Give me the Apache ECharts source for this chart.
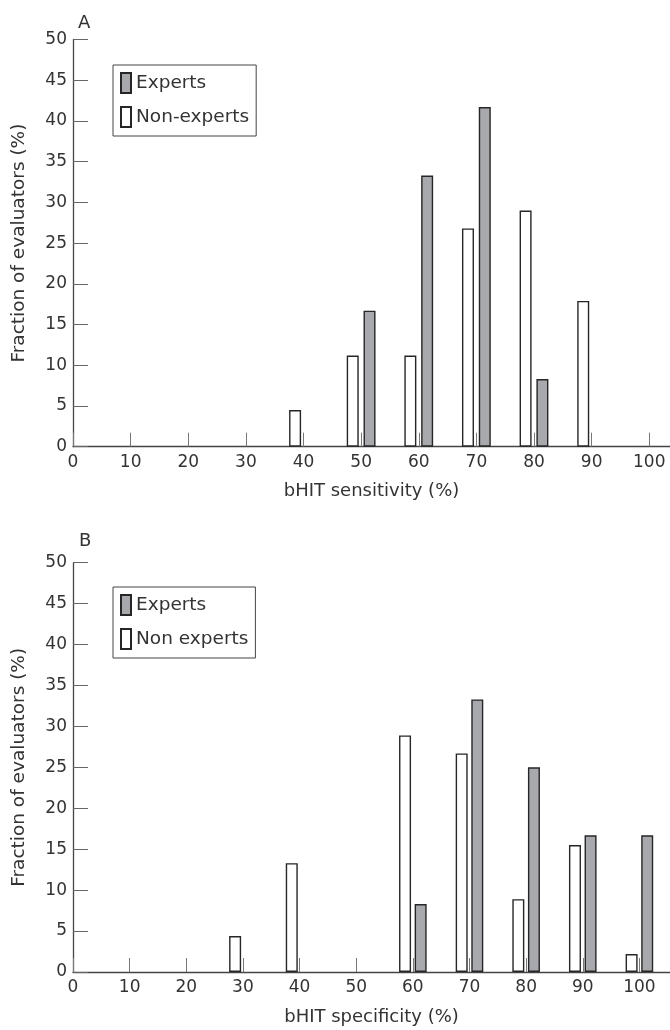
<!DOCTYPE html>
<html>
<head>
<meta charset="utf-8">
<script src="https://cdn.jsdelivr.net/npm/echarts@6/dist/echarts.min.js"></script>
<style>
html,body{margin:0;padding:0;background:#fff;}
#chart{width:670px;height:1030px;}
</style>
</head>
<body>
<div id="chart"></div>
<script>
// ---- data ----
var xTicks = [0, 10, 20, 30, 40, 50, 60, 70, 80, 90, 100];
var yTicks = [0, 5, 10, 15, 20, 25, 30, 35, 40, 45, 50];

// Panel A: bHIT sensitivity
var sensBins = [40, 50, 60, 70, 80, 90];
var sensExperts = [null, 16.7, 33.3, 41.7, 8.3, null];
var sensNonExperts = [4.5, 11.2, 11.2, 26.8, 29.0, 17.9];

// Panel B: bHIT specificity
var specBins = [30, 40, 60, 70, 80, 90, 100];
var specExperts = [null, null, 8.3, 33.3, 25.0, 16.7, 16.7];
var specNonExperts = [4.4, 13.3, 28.9, 26.7, 8.9, 15.5, 2.2];

function pairs(bins, vals) {
  var out = [];
  for (var i = 0; i < bins.length; i++) {
    if (vals[i] !== null) out.push([bins[i], vals[i]]);
  }
  return out;
}

var FONT = 'DejaVu Sans';
var TXT = '#333333';
var GRAYFILL = '#a7a9ac';
var EDGE = '#262626';

function xAxisDef(gridIndex, max, name) {
  return {
    type: 'value', gridIndex: gridIndex, min: 0, max: max,
    name: name, nameLocation: 'middle', nameGap: 36,
    nameTextStyle: {fontFamily: FONT, fontSize: 18, color: TXT},
    axisLine: {show: true, lineStyle: {color: '#444', width: 1.3}},
    axisTick: {show: true, inside: true, length: 14, customValues: xTicks, lineStyle: {color: '#777', width: 1}},
    axisLabel: {customValues: xTicks, fontFamily: FONT, fontSize: 17, color: TXT, margin: 7},
    splitLine: {show: false}
  };
}
function yAxisDef(gridIndex) {
  return {
    type: 'value', gridIndex: gridIndex, min: 0, max: 50, interval: 5,
    name: 'Fraction of evaluators (%)', nameLocation: 'middle', nameGap: 44,
    nameTextStyle: {fontFamily: FONT, fontSize: 18.5, color: TXT},
    axisLine: {show: true, lineStyle: {color: '#444', width: 1.3}},
    axisTick: {show: true, inside: true, length: 15, lineStyle: {color: '#666', width: 1}},
    axisLabel: {fontFamily: FONT, fontSize: 17, color: TXT, margin: 6},
    splitLine: {show: false}
  };
}
function barSeries(name, xi, data, fill, gap) {
  return {
    type: 'bar', name: name, xAxisIndex: xi, yAxisIndex: xi,
    data: data, barWidth: 12, barGap: gap,
    itemStyle: {color: fill, borderColor: EDGE, borderWidth: 1.4},
    emphasis: {disabled: true},
    animation: false
  };
}
function legendDef(top, names) {
  return {
    orient: 'vertical', left: 113, top: top,
    data: names, icon: 'rect', itemWidth: 10, itemHeight: 20, itemGap: 12,
    padding: [7, 7, 8, 7],
    borderColor: '#444', borderWidth: 1, backgroundColor: '#fff',
    textStyle: {fontFamily: FONT, fontSize: 18.5, color: TXT},
    selectedMode: false
  };
}

var chart = echarts.init(document.getElementById('chart'), null, {renderer: 'canvas'});
chart.setOption({
  animation: false,
  backgroundColor: '#fff',
  title: [
    {text: 'A', left: 73, top: 9, textStyle: {fontFamily: FONT, fontSize: 18, fontWeight: 'normal', color: TXT}},
    {text: 'B', left: 74, top: 527, textStyle: {fontFamily: FONT, fontSize: 18, fontWeight: 'normal', color: TXT}}
  ],
  legend: [
    legendDef(65, ['Experts', 'Non-experts']),
    legendDef(587, ['Experts', 'Non experts'])
  ],
  grid: [
    {left: 73, top: 39.5, width: 597, height: 407.2},
    {left: 73, top: 562.7, width: 597, height: 409.3}
  ],
  xAxis: [
    xAxisDef(0, 103.6, 'bHIT sensitivity (%)'),
    xAxisDef(1, 105.4, 'bHIT specificity (%)')
  ],
  yAxis: [yAxisDef(0), yAxisDef(1)],
  series: [
    barSeries('Non-experts', 0, pairs(sensBins, sensNonExperts), '#ffffff', '40%'),
    barSeries('Experts', 0, pairs(sensBins, sensExperts), GRAYFILL, '40%'),
    barSeries('Non experts', 1, pairs(specBins, specNonExperts), '#ffffff', '30%'),
    barSeries('Experts', 1, pairs(specBins, specExperts), GRAYFILL, '30%')
  ]
});
</script>
</body>
</html>
